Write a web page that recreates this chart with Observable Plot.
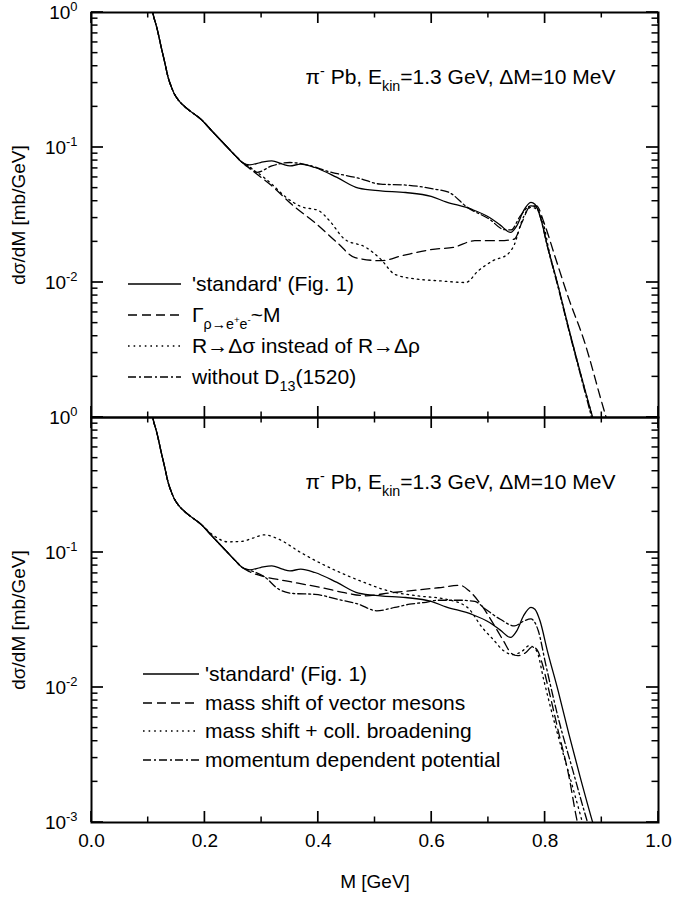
<!DOCTYPE html>
<html><head><meta charset="utf-8">
<script src="https://cdn.jsdelivr.net/npm/d3@7"></script>
<script src="https://cdn.jsdelivr.net/npm/@observablehq/plot@0.6"></script>
<style>
body{margin:0;background:#fff;}
#chart{width:674px;}
#chart svg{overflow:visible;display:block;}
</style></head><body><div id="chart"></div>
<script>
// ---------- axis data ----------
const xMajor = [0, 0.2, 0.4, 0.6, 0.8, 1.0];
const xMajorLabels = ["0.0", "0.2", "0.4", "0.6", "0.8", "1.0"];
const xMinor = [0.1, 0.3, 0.5, 0.7, 0.9];
const yDecades = [1e-3, 1e-2, 1e-1, 1];
const yDecadeLabels = ["10^{-3}", "10^{-2}", "10^{-1}", "10^{0}"];
const yMinorMult = [2, 3, 4, 5, 6, 7, 8, 9];
const xTitle = "M [GeV]";
const yTitle = "dσ/dM [mb/GeV]";
const annotation = "π^{-} Pb, E_{kin}=1.3 GeV, ΔM=10 MeV";

// ---------- series ----------
// common low-mass part shared by all curves
const M_low = [0.100, 0.108, 0.116, 0.1224, 0.129, 0.1352, 0.141, 0.146, 0.152, 0.158, 0.170, 0.193, 0.215, 0.240, 0.254, 0.266];
const v_low = [1.6, 1.0, 0.75, 0.566, 0.43, 0.33, 0.28, 0.25, 0.228, 0.213, 0.192, 0.162, 0.129, 0.100, 0.0867, 0.0774];

// 'standard' (Fig. 1)
const M_std = [0.279, 0.298, 0.318, 0.337, 0.350, 0.369, 0.394, 0.433, 0.471, 0.510, 0.554, 0.599, 0.625, 0.670, 0.702, 0.721, 0.739, 0.750, 0.762, 0.775, 0.782, 0.791, 0.804, 0.823, 0.842, 0.862, 0.884, 0.895];
const v_std = [0.0744, 0.0774, 0.0797, 0.0753, 0.0731, 0.0753, 0.0711, 0.060, 0.050, 0.0478, 0.0464, 0.0434, 0.0396, 0.0349, 0.0303, 0.0266, 0.0235, 0.0263, 0.034, 0.0392, 0.038, 0.0312, 0.0187, 0.00945, 0.00451, 0.00216, 0.001, 0.0007];

// top panel: Γ(ρ→e+e-) ~ M
const M_gam = [0.279, 0.292, 0.318, 0.356, 0.394, 0.433, 0.465, 0.510, 0.548, 0.606, 0.638, 0.676, 0.721, 0.746, 0.759, 0.775, 0.785, 0.798, 0.817, 0.842, 0.868, 0.906, 0.915];
const v_gam = [0.070, 0.0634, 0.052, 0.037, 0.0278, 0.0198, 0.0153, 0.0145, 0.0158, 0.0177, 0.0182, 0.0204, 0.0204, 0.021, 0.0278, 0.037, 0.037, 0.0278, 0.0158, 0.00753, 0.0038, 0.00106, 0.0008];

// top panel: R→Δσ instead of R→Δρ
const M_sig = [0.279, 0.292, 0.318, 0.343, 0.369, 0.401, 0.420, 0.446, 0.484, 0.510, 0.535, 0.574, 0.612, 0.660, 0.682, 0.708, 0.734, 0.746, 0.759, 0.775, 0.785, 0.798, 0.806, 0.823, 0.842, 0.862, 0.884, 0.895];
const v_sig = [0.070, 0.0654, 0.0535, 0.0428, 0.0366, 0.034, 0.0286, 0.021, 0.0182, 0.0149, 0.0115, 0.0106, 0.0103, 0.010, 0.0122, 0.0145, 0.0162, 0.0192, 0.0286, 0.036, 0.035, 0.0263, 0.018, 0.0094, 0.0045, 0.00216, 0.001, 0.0007];

// top panel: without D13(1520)
const M_d13 = [0.279, 0.292, 0.318, 0.350, 0.382, 0.420, 0.471, 0.510, 0.554, 0.606, 0.631, 0.663, 0.702, 0.727, 0.740, 0.756, 0.775, 0.785, 0.792, 0.804, 0.823, 0.842, 0.862, 0.882, 0.895];
const v_d13 = [0.072, 0.0654, 0.0731, 0.0774, 0.0741, 0.066, 0.0593, 0.0535, 0.0527, 0.0491, 0.0464, 0.036, 0.0294, 0.0247, 0.0245, 0.031, 0.037, 0.036, 0.030, 0.0185, 0.0092, 0.0044, 0.0021, 0.001, 0.0006];

// bottom panel: mass shift of vector mesons
const M_ms = [0.279, 0.305, 0.343, 0.375, 0.407, 0.446, 0.484, 0.529, 0.574, 0.612, 0.650, 0.666, 0.689, 0.708, 0.727, 0.740, 0.752, 0.765, 0.778, 0.786, 0.795, 0.804, 0.823, 0.842, 0.855, 0.862];
const v_ms = [0.072, 0.0662, 0.0616, 0.0581, 0.0548, 0.0504, 0.0478, 0.0504, 0.0527, 0.0548, 0.0571, 0.052, 0.040, 0.030, 0.022, 0.018, 0.0172, 0.018, 0.020, 0.019, 0.015, 0.0106, 0.0048, 0.0022, 0.0011, 0.0008];

// bottom panel: mass shift + coll. broadening
const M_msb = [0.100, 0.108, 0.116, 0.1224, 0.129, 0.1352, 0.141, 0.146, 0.152, 0.158, 0.170, 0.193, 0.215, 0.240, 0.265, 0.285, 0.305, 0.330, 0.369, 0.407, 0.446, 0.484, 0.523, 0.574, 0.625, 0.663, 0.689, 0.708, 0.727, 0.743, 0.759, 0.772, 0.785, 0.798, 0.817, 0.842, 0.865, 0.872];
const v_msb = [1.6, 1.0, 0.75, 0.566, 0.43, 0.33, 0.28, 0.25, 0.228, 0.213, 0.192, 0.162, 0.134, 0.12, 0.121, 0.128, 0.135, 0.1256, 0.100, 0.082, 0.0689, 0.0593, 0.052, 0.0478, 0.0451, 0.0392, 0.0278, 0.0228, 0.0187, 0.0175, 0.0185, 0.0204, 0.0187, 0.0112, 0.0054, 0.0023, 0.00103, 0.0008];

// bottom panel: momentum dependent potential
const M_mdp = [0.279, 0.305, 0.330, 0.356, 0.394, 0.433, 0.471, 0.503, 0.535, 0.561, 0.586, 0.612, 0.650, 0.676, 0.695, 0.721, 0.746, 0.762, 0.775, 0.788, 0.801, 0.823, 0.849, 0.874, 0.882];
const v_mdp = [0.074, 0.0662, 0.0535, 0.0497, 0.049, 0.0451, 0.0414, 0.037, 0.0392, 0.0414, 0.0426, 0.0443, 0.0443, 0.0434, 0.038, 0.032, 0.0286, 0.031, 0.0322, 0.0263, 0.0149, 0.006, 0.00242, 0.00103, 0.0008];

const topLegend = ["'standard' (Fig. 1)", "Γ_{ρ→e^{+}e^{-}}~M", "R→Δσ instead of R→Δρ", "without D_{13}(1520)"];
const botLegend = ["'standard' (Fig. 1)", "mass shift of vector mesons", "mass shift + coll. broadening", "momentum dependent potential"];

// ---------- helpers ----------
const toRows = (Ms, vs) => Ms.map((m, i) => ({M: m, v: vs[i]}));
const withLow = (Ms, vs) => toRows(M_low.concat(Ms), v_low.concat(vs));
const DASH = {solid: null, dashed: "9,5", dotted: "1.6,4", dashdot: "8,3,2,3"};
const FONT = "'Liberation Sans', Arial, Helvetica, sans-serif";

const W = 674, ML = 91, MR = 16, PH = 405;
const yMinor = yDecades.slice(0, 3).flatMap(d => yMinorMult.map(k => d * k));

function parseRich(s) {
  const out = [];
  (function rec(str, shift, scale) {
    let i = 0, buf = "";
    while (i < str.length) {
      const c = str[i];
      if ((c === "^" || c === "_") && str[i + 1] === "{") {
        if (buf) { out.push({t: buf, shift, scale}); buf = ""; }
        let depth = 0, j = i + 1;
        for (; j < str.length; j++) {
          if (str[j] === "{") depth++;
          else if (str[j] === "}") { depth--; if (depth === 0) break; }
        }
        rec(str.slice(i + 2, j), shift + (c === "^" ? -0.42 : 0.32) * scale, scale * 0.68);
        i = j + 1;
      } else { buf += c; i++; }
    }
    if (buf) out.push({t: buf, shift, scale});
  })(s, 0, 1);
  return out;
}
function richify(textEl, fs) {
  const s = textEl.textContent;
  if (!/[\^_]\{/.test(s)) return;
  const segs = parseRich(s);
  while (textEl.firstChild) textEl.removeChild(textEl.firstChild);
  let prev = 0;
  for (const sg of segs) {
    const ts = document.createElementNS("http://www.w3.org/2000/svg", "tspan");
    ts.textContent = sg.t;
    ts.setAttribute("font-size", (fs * sg.scale).toFixed(2));
    const d = (sg.shift - prev) * fs;
    if (d !== 0) ts.setAttribute("dy", d.toFixed(2));
    prev = sg.shift;
    textEl.appendChild(ts);
  }
}

function panel({curves, labelIdx, legend, legendX1, legendX2, legendTextX, legendY, mt, mb, bottomLabels}) {
  const H = mt + PH + mb;
  const marks = [];
  for (const c of curves) {
    marks.push(Plot.line(c.data, {x: "M", y: "v", stroke: "black", strokeWidth: 1.3,
      strokeDasharray: DASH[c.style], curve: "monotone-x", clip: true}));
  }
  marks.push(Plot.frame({stroke: "black", strokeWidth: 2}));
  marks.push(Plot.text(labelIdx, {y: i => yDecades[i], text: i => yDecadeLabels[i], frameAnchor: "left",
    textAnchor: "end", dx: -14, fontSize: 19, fill: "black"}));
  marks.push(Plot.text([yTitle], {frameAnchor: "left", textAnchor: "middle", rotate: -90, dx: -73, fontSize: 19, fill: "black"}));
  marks.push(Plot.text([annotation], {frameAnchor: "top-right", textAnchor: "end", dx: -43, dy: 57, fontSize: 21, fill: "black"}));
  if (bottomLabels) {
    marks.push(Plot.text(xMajor, {x: d => d, text: (d, i) => xMajorLabels[i], frameAnchor: "bottom", dy: 24, fontSize: 19, fill: "black"}));
    marks.push(Plot.text([xTitle], {frameAnchor: "bottom", dy: 65, fontSize: 19, fill: "black"}));
  }
  const svg = Plot.plot({
    width: W, height: H, marginLeft: ML, marginRight: MR, marginTop: mt, marginBottom: mb,
    x: {domain: [0, 1], axis: null},
    y: {type: "log", domain: [1e-3, 1], axis: null},
    style: {fontFamily: FONT, overflow: "visible", background: "white", color: "black"},
    marks
  });

  // inward ticks on all four sides, placed with the plot's own scales
  const sx = svg.scale("x"), sy = svg.scale("y");
  const X0 = ML, X1 = W - MR, Y0 = mt, Y1 = mt + PH;
  const tg = d3.select(svg).append("g").attr("stroke", "black").attr("fill", "none");
  const seg = (x1, y1, x2, y2, w) => tg.append("line").attr("x1", x1).attr("y1", y1)
    .attr("x2", x2).attr("y2", y2).attr("stroke-width", w);
  for (const v of yDecades) { const y = sy.apply(v); seg(X0, y, X0 + 12, y, 1.7); seg(X1 - 12, y, X1, y, 1.7); }
  for (const v of yMinor) { const y = sy.apply(v); seg(X0, y, X0 + 6.5, y, 1.5); seg(X1 - 6.5, y, X1, y, 1.5); }
  for (const v of xMajor) { const x = sx.apply(v); seg(x, Y0, x, Y0 + 11, 1.7); seg(x, Y1 - 11, x, Y1, 1.7); }
  for (const v of xMinor) { const x = sx.apply(v); seg(x, Y0, x, Y0 + 5.5, 1.5); seg(x, Y1 - 5.5, x, Y1, 1.5); }

  // legend inside the frame
  const g = d3.select(svg).append("g").attr("font-family", FONT).attr("font-size", 21)
    .attr("text-anchor", "start");
  legend.forEach((lab, i) => {
    const y = legendY[i];
    g.append("line").attr("x1", legendX1).attr("x2", legendX2).attr("y1", y).attr("y2", y)
      .attr("stroke", "black").attr("stroke-width", 1.3)
      .attr("stroke-dasharray", DASH[curves[i].style]);
    g.append("text").attr("x", legendTextX).attr("y", y + 7).attr("fill", "black")
      .attr("font-size", 21).text(lab);
  });
  d3.select(svg).selectAll("text").each(function () {
    const fs = parseFloat(this.getAttribute("font-size")) ||
      parseFloat(this.parentNode.getAttribute("font-size")) || 19;
    richify(this, fs);
  });
  return svg;
}

const stdRows = withLow(M_std, v_std);
const topSvg = panel({
  curves: [
    {data: stdRows, style: "solid"},
    {data: withLow(M_gam, v_gam), style: "dashed"},
    {data: withLow(M_sig, v_sig), style: "dotted"},
    {data: withLow(M_d13, v_d13), style: "dashdot"}
  ],
  labelIdx: [1, 2, 3],
  legend: topLegend, legendX1: 128, legendX2: 181, legendTextX: 192,
  legendY: [284, 315, 346, 377],
  mt: 12, mb: 0, bottomLabels: false
});
const botSvg = panel({
  curves: [
    {data: stdRows, style: "solid"},
    {data: withLow(M_ms, v_ms), style: "dashed"},
    {data: toRows(M_msb, v_msb), style: "dotted"},
    {data: withLow(M_mdp, v_mdp), style: "dashdot"}
  ],
  labelIdx: [0, 1, 2, 3],
  legend: botLegend, legendX1: 143, legendX2: 199, legendTextX: 205,
  legendY: [257, 286, 314, 343],
  mt: 0, mb: 81, bottomLabels: true
});
const chart = document.getElementById("chart");
chart.appendChild(topSvg);
chart.appendChild(botSvg);
</script></body></html>
